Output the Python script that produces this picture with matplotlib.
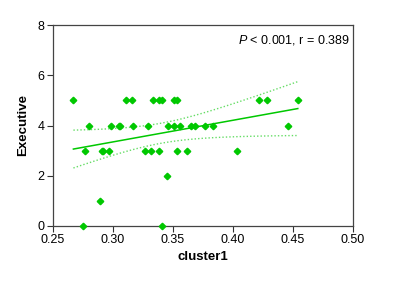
import matplotlib
matplotlib.use("Agg")
import matplotlib.pyplot as plt
import numpy as np

plt.rcParams['font.family'] = ['Liberation Sans', 'DejaVu Sans']
plt.rcParams['mathtext.fontset'] = 'custom'
plt.rcParams['mathtext.it'] = 'Liberation Sans:italic'
plt.rcParams['mathtext.rm'] = 'Liberation Sans'

# cluster1 values grouped by Executive score
x5 = [0.267, 0.311, 0.316, 0.333, 0.338, 0.341, 0.351, 0.353, 0.422, 0.428, 0.454]
x4 = [0.280, 0.298, 0.305, 0.306, 0.317, 0.329, 0.346, 0.351, 0.356, 0.365,
      0.368, 0.377, 0.383, 0.446]
x3 = [0.277, 0.291, 0.292, 0.297, 0.327, 0.332, 0.338, 0.353, 0.362, 0.403]
x2 = [0.345]
x1 = [0.289]
x0 = [0.275, 0.341]

cluster1 = np.array(x5 + x4 + x3 + x2 + x1 + x0)
executive = np.array([5] * len(x5) + [4] * len(x4) + [3] * len(x3)
                     + [2] * len(x2) + [1] * len(x1) + [0] * len(x0), dtype=float)

green = '#00c800'

fig = plt.figure(figsize=(4.0, 2.87), dpi=100)
ax = fig.add_axes([53 / 400, 1 - 226 / 287, 300 / 400, 201 / 287])

# linear fit and 95% confidence band
n = len(cluster1)
slope, intercept = np.polyfit(cluster1, executive, 1)
xs = np.linspace(cluster1.min(), cluster1.max(), 100)
fit = slope * xs + intercept
resid = executive - (slope * cluster1 + intercept)
s = np.sqrt(np.sum(resid ** 2) / (n - 2))
sxx = np.sum((cluster1 - cluster1.mean()) ** 2)
se = s * np.sqrt(1 / n + (xs - cluster1.mean()) ** 2 / sxx)
t = 2.023
ax.plot(xs, fit, color=green, lw=1.1, zorder=2)
ax.plot(xs, fit + t * se, color='#66dd66', lw=1.0, ls=(0, (1, 1.5)), zorder=2)
ax.plot(xs, fit - t * se, color='#66dd66', lw=1.0, ls=(0, (1, 1.5)), zorder=2)

ax.plot(cluster1, executive, 'D', color=green, markersize=3.3, mec=green, zorder=3, clip_on=False)

ax.set_xlim(0.25, 0.50)
ax.set_ylim(0, 8)
ax.set_xticks([0.25, 0.30, 0.35, 0.40, 0.45, 0.50])
ax.set_xticklabels(['0.25', '0.30', '0.35', '0.40', '0.45', '0.50'])
ax.set_yticks([0, 2, 4, 6, 8])
ax.tick_params(direction='out', length=4, width=0.8, color='#333333', labelsize=9, pad=2)
for sp in ax.spines.values():
    sp.set_color('#444444')
    sp.set_linewidth(0.9)

ax.set_xlabel('cluster1', fontsize=9.5, fontweight='bold', labelpad=3)
ax.set_ylabel('Executive', fontsize=9.5, fontweight='bold', labelpad=6)

ax.text(0.99, 0.96, r'$\mathit{P}$ < 0.001, r = 0.389', transform=ax.transAxes,
        ha='right', va='top', fontsize=9)

fig.savefig('out.png', dpi=100)
